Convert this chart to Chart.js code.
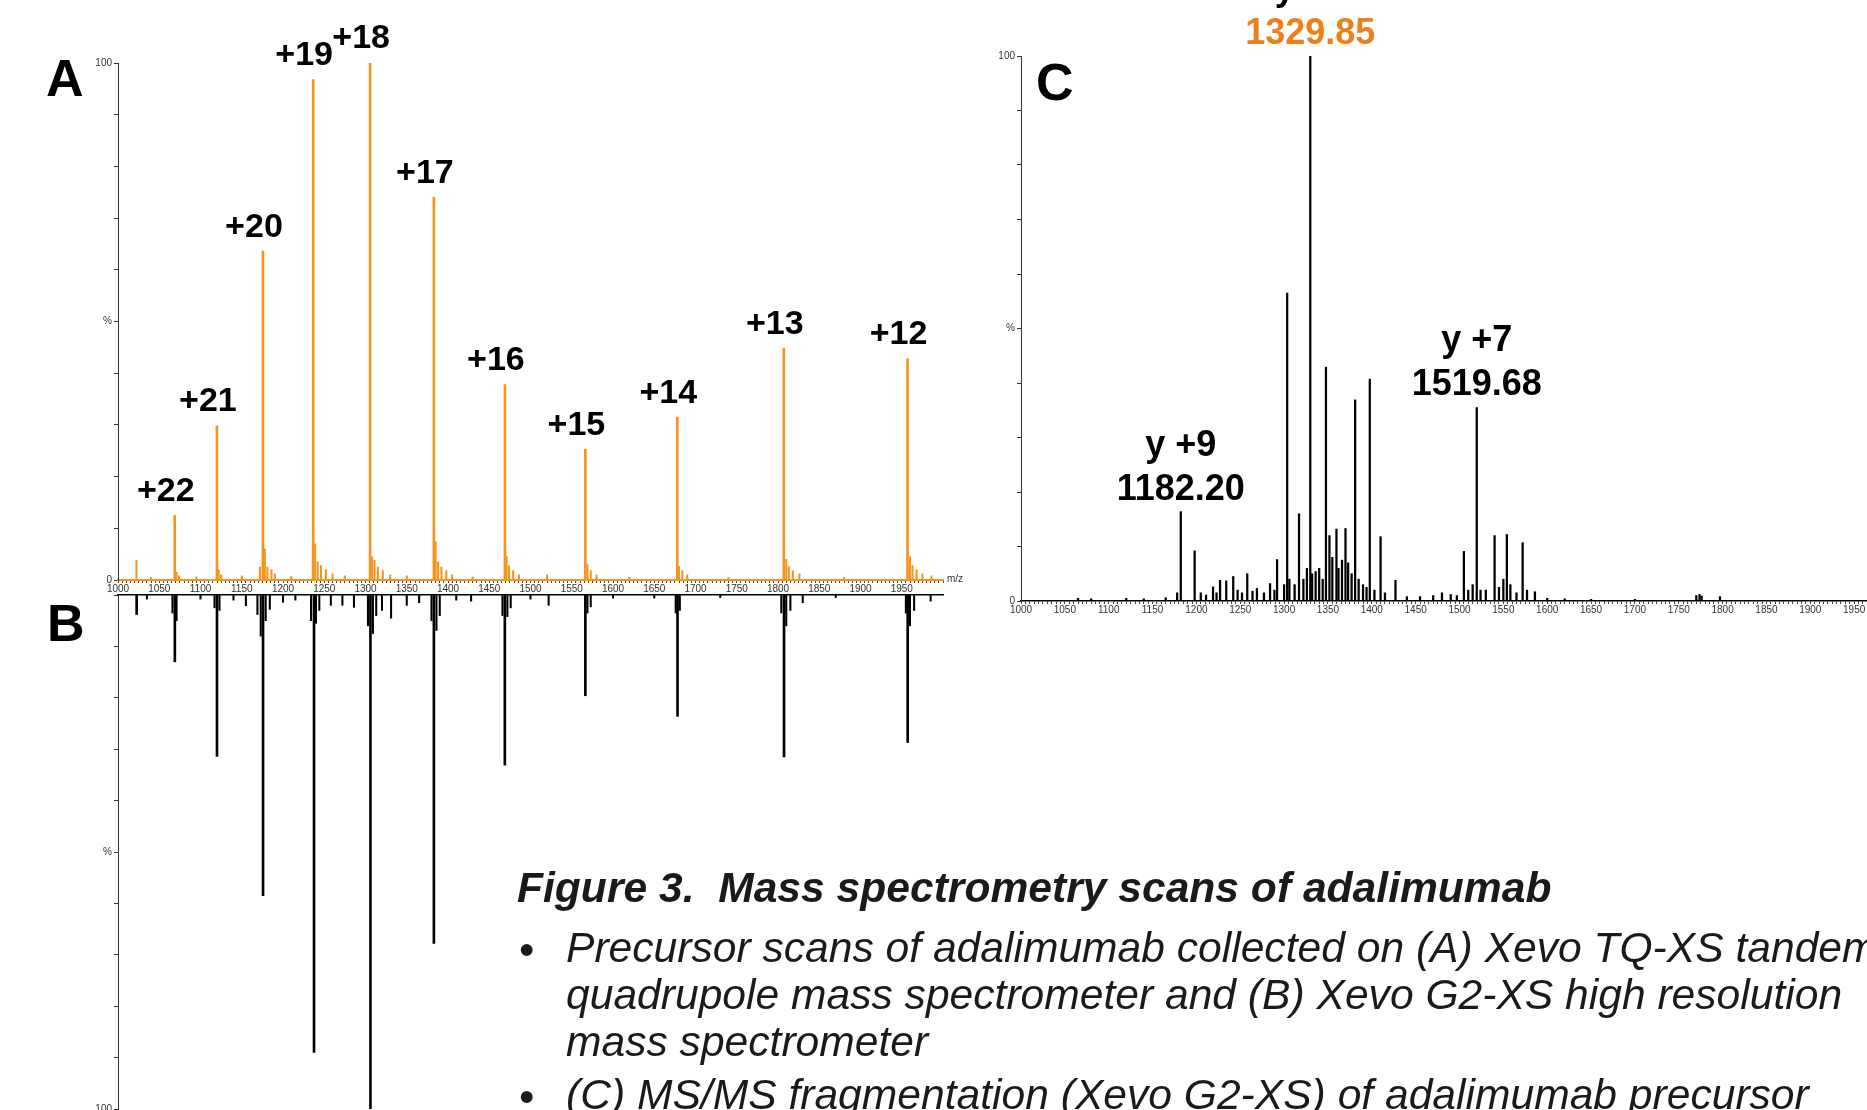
<!DOCTYPE html>
<html lang="en">
  <head>
    <meta charset="UTF-8" />
    <title>Figure 3 - adalimumab MS scans</title>
    <script src="https://cdn.jsdelivr.net/npm/chart.js@4.4.1/dist/chart.umd.min.js"></script>
    <style>
      html, body { margin: 0; padding: 0; background: #fff; }
      body { width: 1867px; height: 1110px; position: relative; overflow: hidden;
             font-family: "Liberation Sans", Arial, sans-serif; color: #000; }
      .box { position: absolute; }
      .panel { position: absolute; font-weight: bold; font-size: 52px; line-height: 52px; }
      .mz { position: absolute; font-size: 10px; color: #333; }
      .caption { position: absolute; left: 517px; top: 862px; width: 1400px; font-style: italic; color: #1a1a1a; }
      .caption h3 { margin: 0; font-size: 42.6px; line-height: 50px; font-weight: bold; white-space: pre; }
      .caption ul { margin: 12px 0 0 0; padding: 0 0 0 49px; font-size: 42.6px; line-height: 47px; list-style: none; }
      .caption li { position: relative; margin-bottom: 6px; }
      .caption li::before { content: "\2022"; position: absolute; left: -47px; top: 2px; font-style: normal; font-size: 44px; }
    </style>
  </head>
  <body>
    <div class="box" style="left:78px; top:0px; width:875px; height:600px"><canvas id="chartA"></canvas></div>
    <div class="box" style="left:78px; top:585px; width:875px; height:532px"><canvas id="chartB"></canvas></div>
    <div class="box" style="left:981px; top:-40px; width:927px; height:661px"><canvas id="chartC"></canvas></div>

    <div class="panel" style="left:46px; top:52px">A</div>
    <div class="panel" style="left:47px; top:597px">B</div>
    <div class="panel" style="left:1036px; top:56px">C</div>
    <div class="mz" style="left:947px; top:573px">m/z</div>

    <div class="caption">
      <h3>Figure 3.  Mass spectrometry scans of adalimumab</h3>
      <ul>
        <li>Precursor scans of adalimumab collected on (A) Xevo TQ-XS tandem quadrupole mass spectrometer and (B) Xevo G2-XS high resolution mass spectrometer</li>
        <li>(C) MS/MS fragmentation (Xevo G2-XS) of adalimumab precursor</li>
      </ul>
    </div>

    <script>
      // (A) Xevo TQ-XS precursor scan, charge states
      const aPeakMz = [1068.8, 1119.9, 1175.7, 1236.6, 1305.6, 1382.9, 1469.0, 1566.5, 1677.9, 1807.0, 1957.0];
      const aPeakInt = [12.5, 29.8, 63.6, 96.8, 100, 74.0, 37.8, 25.3, 31.5, 44.8, 42.8];
      const aCharge = ['+22', '+21', '+20', '+19', '+18', '+17', '+16', '+15', '+14', '+13', '+12'];
      // shoulders and small stuff in (A)
      const aMinorMz = [1022.4, 1071, 1074, 1122, 1125, 1172, 1178, 1181, 1186, 1190,
                        1239, 1242, 1246, 1252, 1260, 1308, 1311, 1315, 1321, 1330,
                        1385, 1388, 1392, 1398, 1405, 1471, 1474, 1479, 1486, 1520,
                        1569, 1573, 1580, 1680, 1684, 1690, 1810, 1813, 1818, 1826,
                        1960, 1963, 1968, 1975, 1986, 1040, 1095, 1150, 1210, 1275,
                        1350, 1430, 1620, 1740, 1880];
      const aMinorInt = [3.8, 1.5, 0.8, 2.0, 1.0, 2.5, 6.0, 2.5, 2.0, 1.2,
                         7.0, 3.5, 2.8, 2.0, 1.2, 4.5, 3.8, 2.5, 1.8, 1.0,
                         7.4, 3.5, 2.5, 1.8, 1.0, 4.5, 2.8, 1.8, 1.0, 1.0,
                         3.0, 1.8, 1.0, 2.6, 1.8, 1.0, 4.0, 2.6, 1.8, 1.2,
                         4.5, 2.8, 2.0, 1.2, 0.8, 0.5, 0.6, 0.8, 0.7, 0.8,
                         0.8, 0.6, 0.5, 0.5, 0.5];

      // (B) Xevo G2-XS precursor scan (plotted downward)
      const bPeakMz = [1022.6, 1068.9, 1120.0, 1175.8, 1237.6, 1306.0, 1382.9, 1468.9, 1566.5, 1678.2, 1807.3, 1957.2];
      const bPeakInt = [3.8, 13.0, 31.4, 58.5, 89.0, 100, 67.8, 33.1, 19.6, 23.6, 31.5, 28.7];
      const bMinorMz = [1066, 1071, 1117, 1123, 1155, 1169, 1173, 1179, 1184, 1200,
                        1234, 1240, 1244, 1258, 1272, 1286, 1303, 1309, 1313, 1320,
                        1331, 1350, 1380, 1386, 1390, 1428, 1466, 1472, 1476, 1522,
                        1569, 1573, 1676, 1681, 1804, 1810, 1815, 1830, 1955, 1960,
                        1965, 1985, 1035, 1100, 1140, 1215, 1365, 1410, 1500, 1600,
                        1650, 1730, 1870];
      const bMinorInt = [3.5, 5.0, 2.5, 3.0, 2.1, 3.8, 8.0, 5.0, 2.8, 1.4,
                         5.0, 5.5, 3.0, 2.0, 2.0, 2.4, 6.0, 7.5, 4.0, 3.0,
                         4.5, 2.0, 5.0, 6.9, 4.0, 1.2, 4.0, 4.2, 2.5, 2.0,
                         3.5, 2.3, 3.5, 3.0, 3.5, 6.0, 3.0, 1.5, 3.5, 6.0,
                         3.0, 1.2, 0.8, 0.8, 1.0, 1.0, 1.5, 1.0, 0.8, 0.6,
                         0.6, 0.5, 0.5];

      // (C) MS/MS fragmentation
      const cMz = [1182.2, 1198, 1211, 1219, 1227, 1234, 1242, 1258, 1269, 1284,
                   1292, 1303.5, 1317, 1329.85, 1336, 1347.7, 1351.7, 1359.7, 1366, 1370,
                   1381, 1397.7, 1410, 1427, 1505, 1519.68, 1540, 1554, 1572, 1586,
                   1773.7, 1797, 1065, 1080, 1120, 1140, 1165, 1178, 1205, 1223,
                   1247, 1252, 1264, 1277, 1289, 1300, 1306, 1312, 1322, 1326,
                   1332, 1340, 1344, 1355, 1362, 1373, 1377, 1385, 1390, 1394,
                   1403, 1415, 1440, 1455, 1470, 1480, 1490, 1497, 1510, 1515,
                   1524, 1530, 1545, 1550, 1558, 1565, 1577, 1600, 1620, 1650,
                   1700, 1770, 1776];
      const cInt = [16.4, 9.2, 1.1, 2.6, 3.8, 3.7, 4.5, 5.0, 2.3, 3.2,
                    7.6, 56.5, 16.0, 100, 5.4, 42.9, 12.0, 13.2, 7.5, 13.3,
                    36.9, 40.7, 11.8, 3.8, 9.1, 35.5, 12.0, 12.2, 10.7, 1.7,
                    1.2, 0.8, 0.5, 0.4, 0.5, 0.4, 0.6, 1.5, 1.5, 1.5,
                    2.0, 1.5, 1.8, 1.5, 2.0, 3.0, 4.0, 3.0, 4.0, 6.0,
                    5.0, 6.0, 4.0, 8.0, 6.0, 7.0, 5.0, 4.0, 3.0, 2.5,
                    2.0, 1.5, 0.8, 0.8, 1.0, 1.5, 1.2, 1.0, 2.0, 3.0,
                    2.0, 2.0, 2.5, 4.0, 3.0, 1.5, 2.0, 0.5, 0.4, 0.3,
                    0.3, 1.0, 0.9];
      const cLabelMz = [1182.2, 1329.85, 1519.68];
      const cLabelIon = ['y +9', 'y +8', 'y +7'];
      const cLabelMass = ['1182.20', '1329.85', '1519.68'];

      const ORANGE = '#f7941d';
      const ORANGE_TEXT = '#ee7f1a';
      const FONT = '"Liberation Sans", Arial, sans-serif';

      const pts = (xs, ys) => xs.map((x, i) => ({ x: x, y: ys[i] }));

      // text over peaks, placed from the chart scales
      const peakLabels = {
        id: 'peakLabels',
        afterDatasetsDraw(chart, args, opts) {
          if (!opts.items) return;
          const { ctx, scales } = chart;
          ctx.save();
          ctx.textAlign = 'center';
          ctx.textBaseline = 'bottom';
          ctx.font = opts.font;
          opts.items.forEach((it) => {
            const px = scales.x.getPixelForValue(it.x) + (opts.dx || 0);
            let py = scales.y.getPixelForValue(it.y) - opts.gap;
            for (let k = it.lines.length - 1; k >= 0; k--) {
              ctx.fillStyle = it.colors[k];
              ctx.fillText(it.lines[k], px, py);
              py -= opts.lineHeight;
            }
          });
          ctx.restore();
        },
      };

      function yAxis(labelFor, reverse) {
        return {
          min: 0,
          max: 100,
          reverse: !!reverse,
          afterFit: (s) => { s.width = 40; },
          border: { color: '#333', width: 1 },
          grid: { drawOnChartArea: false, tickLength: 4, color: '#333', offset: false },
          ticks: {
            stepSize: 10,
            autoSkip: false,
            padding: 2,
            color: '#333',
            font: { size: 10, family: FONT },
            callback: labelFor,
          },
        };
      }

      function mzAxis(borderColor, borderWidth) {
        return {
          type: 'linear',
          min: 1000,
          max: 2000,
          offset: false,
          afterFit: (s) => { s.height = 20; },
          border: { color: borderColor, width: borderWidth },
          grid: { drawOnChartArea: false, tickLength: 3, color: '#444', offset: false },
          ticks: {
            stepSize: 5,
            maxTicksLimit: 300,
            autoSkip: false,
            maxRotation: 0,
            minRotation: 0,
            padding: 0,
            color: '#333',
            font: { size: 10, family: FONT },
            callback: (v) => (v % 50 === 0 && v < 2000 ? String(v) : ''),
          },
        };
      }

      const baseOpts = {
        responsive: true,
        maintainAspectRatio: false,
        animation: false,
        devicePixelRatio: 1,
        events: [],
      };

      // A
      new Chart(document.getElementById('chartA'), {
        type: 'bar',
        data: {
          datasets: [
            { data: pts(aPeakMz, aPeakInt), backgroundColor: ORANGE, barThickness: 2, grouped: false },
            { data: pts(aMinorMz, aMinorInt), backgroundColor: ORANGE, barThickness: 1.4, grouped: false },
          ],
        },
        options: Object.assign({}, baseOpts, {
          layout: { padding: { top: 63, right: 10, left: 0, bottom: 0 } },
          scales: {
            x: mzAxis(ORANGE, 2),
            y: yAxis((v) => (v === 100 ? '100' : v === 50 ? '%' : v === 0 ? '0' : '')),
          },
          plugins: {
            legend: { display: false },
            tooltip: { enabled: false },
            peakLabels: {
              font: 'bold 34px ' + FONT,
              gap: 7,
              dx: -9,
              lineHeight: 40,
              items: aPeakMz.map((m, i) => ({ x: m, y: aPeakInt[i], lines: [aCharge[i]], colors: ['#000'] })),
            },
          },
        }),
        plugins: [peakLabels],
      });

      // B (inverted)
      const bX = mzAxis('#000', 1.5);
      bX.position = 'top';
      bX.afterFit = (s) => { s.height = 0; };
      bX.ticks = { display: false };
      bX.grid = { drawOnChartArea: false, drawTicks: false, offset: false };
      new Chart(document.getElementById('chartB'), {
        type: 'bar',
        data: {
          datasets: [
            { data: pts(bPeakMz, bPeakInt), backgroundColor: '#000', barThickness: 2, grouped: false },
            { data: pts(bMinorMz, bMinorInt), backgroundColor: '#000', barThickness: 1.4, grouped: false },
          ],
        },
        options: Object.assign({}, baseOpts, {
          layout: { padding: { top: 10, right: 10, left: 0, bottom: 0 } },
          scales: {
            x: bX,
            y: yAxis((v) => (v === 100 ? '100' : v === 50 ? '%' : ''), true),
          },
          plugins: { legend: { display: false }, tooltip: { enabled: false } },
        }),
      });

      // C
      new Chart(document.getElementById('chartC'), {
        type: 'bar',
        data: {
          datasets: [
            { data: pts(cMz, cInt), backgroundColor: '#000', barThickness: 1.6, grouped: false },
          ],
        },
        options: Object.assign({}, baseOpts, {
          layout: { padding: { top: 96, right: 10, left: 0, bottom: 0 } },
          scales: {
            x: mzAxis('#000', 1.5),
            y: yAxis((v) => (v === 100 ? '100' : v === 50 ? '%' : v === 0 ? '0' : '')),
          },
          plugins: {
            legend: { display: false },
            tooltip: { enabled: false },
            peakLabels: {
              font: 'bold 36px ' + FONT,
              gap: 4,
              dx: 0,
              lineHeight: 44,
              items: cLabelMz.map((m, i) => ({
                x: m,
                y: cInt[cMz.indexOf(m)],
                lines: [cLabelIon[i], cLabelMass[i]],
                colors: ['#000', i === 1 ? ORANGE_TEXT : '#000'],
              })),
            },
          },
        }),
        plugins: [peakLabels],
      });
    </script>
  </body>
</html>
